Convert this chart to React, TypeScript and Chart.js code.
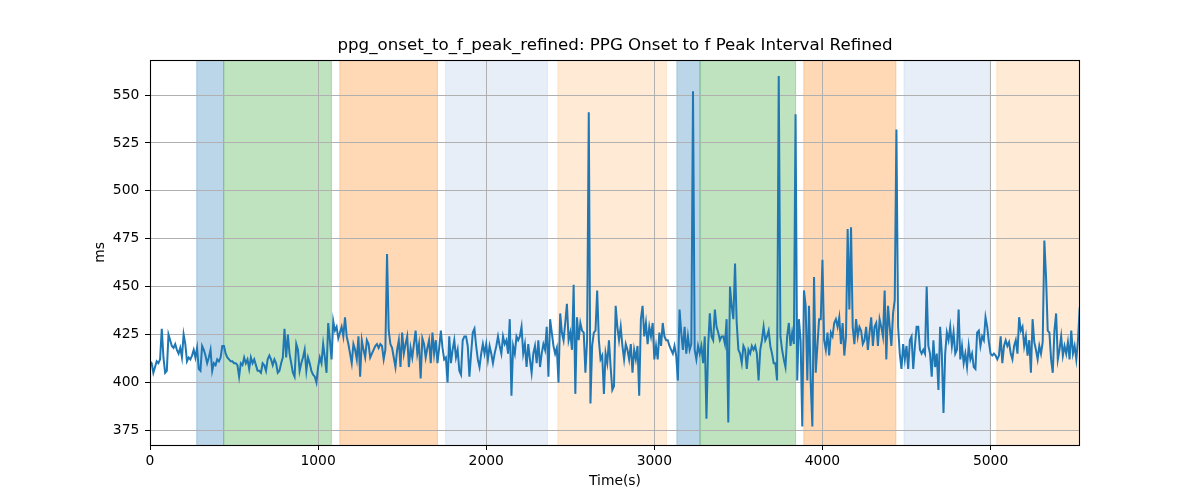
import React, { useEffect, useRef } from "react";
import { Chart, registerables } from "chart.js";

Chart.register(...registerables);

const TITLE = "ppg_onset_to_f_peak_refined: PPG Onset to f Peak Interval Refined";
const X_LABEL = "Time(s)";
const Y_LABEL = "ms";
const FONT = "'DejaVu Sans', 'Liberation Sans', sans-serif";

// sampling interval of the readings (seconds between consecutive values)
const SAMPLE_INTERVAL_S = 10;

// interval values in ms, consecutive segments
const seg0to950 = [
  411, 410, 405, 408, 411, 410, 412, 428, 413, 405,
  406, 425, 422, 419, 418, 420, 417, 415, 418, 413,
  425, 420, 411, 413, 412, 414, 417, 413, 418, 407,
  406, 419, 417, 414, 410, 413, 417, 406, 410, 409,
  412, 411, 413, 419, 419, 415, 413, 412, 411, 411,
  410, 410, 409, 403, 410, 409, 413, 410, 412, 407,
  413, 410, 412, 409, 406, 406, 405, 410, 409, 406,
  412, 414, 412, 409, 412, 410, 405, 406, 410, 413,
  428, 413, 425, 415, 410, 405, 403, 420, 417, 406,
  410, 413, 417, 406, 413, 410,
];
const seg960to1870 = [
  406, 404, 403, 400,
  408, 413, 410, 420, 413, 405, 431, 422, 412, 432,
  427, 429, 423, 426, 429, 424, 434, 424, 420, 415,
  410, 420, 417, 412, 424, 403, 422, 417, 413, 422,
  420, 413, 415, 417, 419, 420, 418, 420, 419, 412,
  417, 467, 427, 420, 418, 413, 408, 417, 422, 408,
  426, 415, 420, 424, 408, 418, 413, 420, 427, 415,
  420, 402, 423, 420, 413, 418, 422, 410, 426, 415,
  422, 410, 418, 427, 418, 412, 413, 400, 424, 410,
  417, 422, 413, 417, 406, 404, 422, 424,
];
const seg1880to2800 = [
  424, 419,
  403, 415, 426, 428, 419, 412, 408, 415, 420, 415,
  420, 412, 419, 415, 410, 415, 419, 424, 419, 415,
  424, 420, 422, 415, 433, 393, 419, 415, 424, 422,
  424, 429, 415, 420, 408, 420, 412, 405, 415, 419,
  410, 422, 408, 415, 420, 417, 429, 403, 433, 426,
  419, 415, 418, 400, 436, 426, 422, 431, 441, 422,
  426, 417, 451, 394, 434, 422, 431, 427, 426, 405,
  422, 541, 389, 419, 426, 427, 448, 422, 412, 414,
  394, 415, 410, 422, 408, 396, 398, 440, 429, 422,
  429,
];
const seg2810to3710 = [
  419, 412, 420, 417, 412, 420, 405, 417, 412,
  419, 393, 433, 440, 424, 431, 420, 429, 424, 431,
  412, 419, 412, 426, 419, 431, 424, 422, 422, 419,
  417, 415, 419, 414, 401, 438, 426, 417, 429, 415,
  424, 417, 420, 552, 417, 412, 419, 415, 419, 410,
  424, 381, 419, 436, 424, 422, 438, 429, 426, 422,
  424, 424, 420, 433, 379, 450, 440, 433, 462, 431,
  417, 415, 410, 419, 417, 407, 417, 415, 419, 417,
  419, 415, 401, 417, 422, 429, 422, 424, 427, 419,
  415, 410,
];
const seg3720to4650 = [
  410, 401, 560, 424, 417, 412, 408, 424,
  431, 419, 426, 420, 540, 401, 433, 422, 377, 448,
  440, 401, 440, 400, 377, 455, 405, 419, 433, 433,
  464, 422, 417, 426, 414, 426, 424, 431, 433, 429,
  434, 420, 431, 414, 424, 480, 438, 481, 429, 420,
  433, 424, 429, 427, 420, 422, 429, 417, 426, 434,
  419, 429, 431, 419, 433, 429, 424, 448, 412, 440,
  429, 419, 436, 443, 532, 429, 415, 407, 420, 412,
  419, 407, 422, 424, 407, 419, 429, 429, 417, 415,
  417, 415, 450, 419, 415, 403,
];
const seg4660to5530 = [
  422, 408, 415, 396,
  429, 415, 384, 415, 426, 422, 429, 419, 426, 415,
  417, 438, 412, 419, 410, 415, 408, 419, 412, 415,
  408, 407, 426, 427, 419, 424, 422, 434, 429, 421,
  415, 414, 415, 414, 412, 414, 424, 410, 419, 422,
  419, 421, 415, 412, 419, 422, 415, 434, 427, 429,
  419, 424, 414, 422, 405, 433, 421, 417, 412, 419,
  415, 421, 474, 455, 427, 426, 412, 405, 427, 436,
  412, 417, 424, 414, 419, 415, 421, 412, 427, 415,
  419, 412, 422, 439,
];

const ppgValues = [
  ...seg0to950,
  ...seg960to1870,
  ...seg1880to2800,
  ...seg2810to3710,
  ...seg3720to4650,
  ...seg4660to5530,
];

// shaded stage regions (seconds)
const REGION_STARTS = [278, 438.5, 1129, 1759, 2426, 3134, 3272, 3889, 4485, 5037];
const REGION_ENDS = [438.5, 1079, 1710, 2364, 3072, 3272, 3840, 4437, 4996, 5532];
const REGION_COLORS = [
  "rgba(31,119,180,0.3)",
  "rgba(44,160,44,0.3)",
  "rgba(255,127,14,0.3)",
  "rgba(174,199,232,0.3)",
  "rgba(255,187,120,0.3)",
  "rgba(31,119,180,0.3)",
  "rgba(44,160,44,0.3)",
  "rgba(255,127,14,0.3)",
  "rgba(174,199,232,0.3)",
  "rgba(255,187,120,0.3)",
];

const X_TICKS = [0, 1000, 2000, 3000, 4000, 5000];
const Y_TICKS = [375, 400, 425, 450, 475, 500, 525, 550];
const X_MIN = 0;
const X_MAX = 5532;
const Y_MIN = 367.3;
const Y_MAX = 568.3;

const regionPlugin = {
  id: "regions",
  beforeDraw(chart: any) {
    const { ctx, chartArea, scales } = chart;
    const xs = scales.x;
    ctx.save();
    ctx.beginPath();
    ctx.rect(chartArea.left, chartArea.top, chartArea.right - chartArea.left, chartArea.bottom - chartArea.top);
    ctx.clip();
    REGION_STARTS.forEach((s, i) => {
      const x1 = xs.getPixelForValue(s);
      const x2 = xs.getPixelForValue(REGION_ENDS[i]);
      ctx.fillStyle = REGION_COLORS[i];
      ctx.fillRect(x1, chartArea.top, x2 - x1, chartArea.bottom - chartArea.top);
      ctx.strokeStyle = REGION_COLORS[i];
      ctx.lineWidth = 1;
      ctx.beginPath();
      ctx.moveTo(x1, chartArea.top);
      ctx.lineTo(x1, chartArea.bottom);
      ctx.moveTo(x2, chartArea.top);
      ctx.lineTo(x2, chartArea.bottom);
      ctx.stroke();
    });
    ctx.restore();
  },
};

const framePlugin = {
  id: "frame",
  afterDraw(chart: any) {
    const { ctx, chartArea } = chart;
    ctx.save();
    ctx.strokeStyle = "#000";
    ctx.lineWidth = 1.1;
    ctx.strokeRect(
      chartArea.left + 0.5,
      chartArea.top + 0.5,
      chartArea.right - chartArea.left - 1,
      chartArea.bottom - chartArea.top
    );
    ctx.restore();
  },
};

export default function App() {
  const ref = useRef<HTMLCanvasElement>(null);

  useEffect(() => {
    if (!ref.current) return;
    const chart = new Chart(ref.current, {
      type: "line",
      data: {
        datasets: [
          {
            data: ppgValues.map((v, i) => ({ x: i * SAMPLE_INTERVAL_S, y: v })),
            borderColor: "#1f77b4",
            borderWidth: 2,
            pointRadius: 0,
            tension: 0,
            fill: false,
          },
        ],
      },
      options: {
        animation: false,
        responsive: false,
        devicePixelRatio: 1,
        layout: { padding: { left: 0, right: 120, top: 0, bottom: 0 } },
        plugins: {
          legend: { display: false },
          tooltip: { enabled: false },
          title: {
            display: true,
            text: TITLE,
            fullSize: false,
            color: "#000",
            font: { family: FONT, size: 16.67, weight: "normal" },
            padding: { top: 35.9, bottom: 4.1 },
          },
        },
        scales: {
          x: {
            type: "linear",
            min: X_MIN,
            max: X_MAX,
            afterBuildTicks: (scale: any) => {
              scale.ticks = X_TICKS.map((v) => ({ value: v }));
            },
            afterFit: (scale: any) => {
              scale.height = 55;
            },
            border: { display: false },
            grid: {
              color: "#b0b0b0",
              lineWidth: 1,
              tickColor: "#000",
              tickLength: 5,
              tickWidth: 1,
              drawTicks: true,
            },
            ticks: {
              autoSkip: false,
              maxRotation: 0,
              color: "#000",
              padding: 3.2,
              font: { family: FONT, size: 13.89 },
              callback: (v: any) => String(v),
            },
            title: {
              display: true,
              text: X_LABEL,
              color: "#000",
              font: { family: FONT, size: 13.89 },
              padding: { top: 0, bottom: 10.7 },
            },
          },
          y: {
            type: "linear",
            min: Y_MIN,
            max: Y_MAX,
            afterBuildTicks: (scale: any) => {
              scale.ticks = Y_TICKS.map((v) => ({ value: v }));
            },
            afterFit: (scale: any) => {
              scale.width = 150;
            },
            border: { display: false },
            grid: {
              color: "#b0b0b0",
              lineWidth: 1,
              tickColor: "#000",
              tickLength: 5,
              tickWidth: 1,
              drawTicks: true,
            },
            ticks: {
              autoSkip: false,
              color: "#000",
              padding: 5.7,
              font: { family: FONT, size: 13.89 },
              callback: (v: any) => String(v),
            },
            title: {
              display: true,
              text: Y_LABEL,
              color: "#000",
              font: { family: FONT, size: 13.89 },
              padding: { top: 92, bottom: 0 },
            },
          },
        },
      },
      plugins: [regionPlugin, framePlugin],
    } as any);
    return () => chart.destroy();
  }, []);

  return (
    <div style={{ position: "absolute", left: 0, top: 0, width: 1200, height: 500, background: "#fff" }}>
      <canvas ref={ref} width={1200} height={500} style={{ width: 1200, height: 500, display: "block" }} />
    </div>
  );
}
